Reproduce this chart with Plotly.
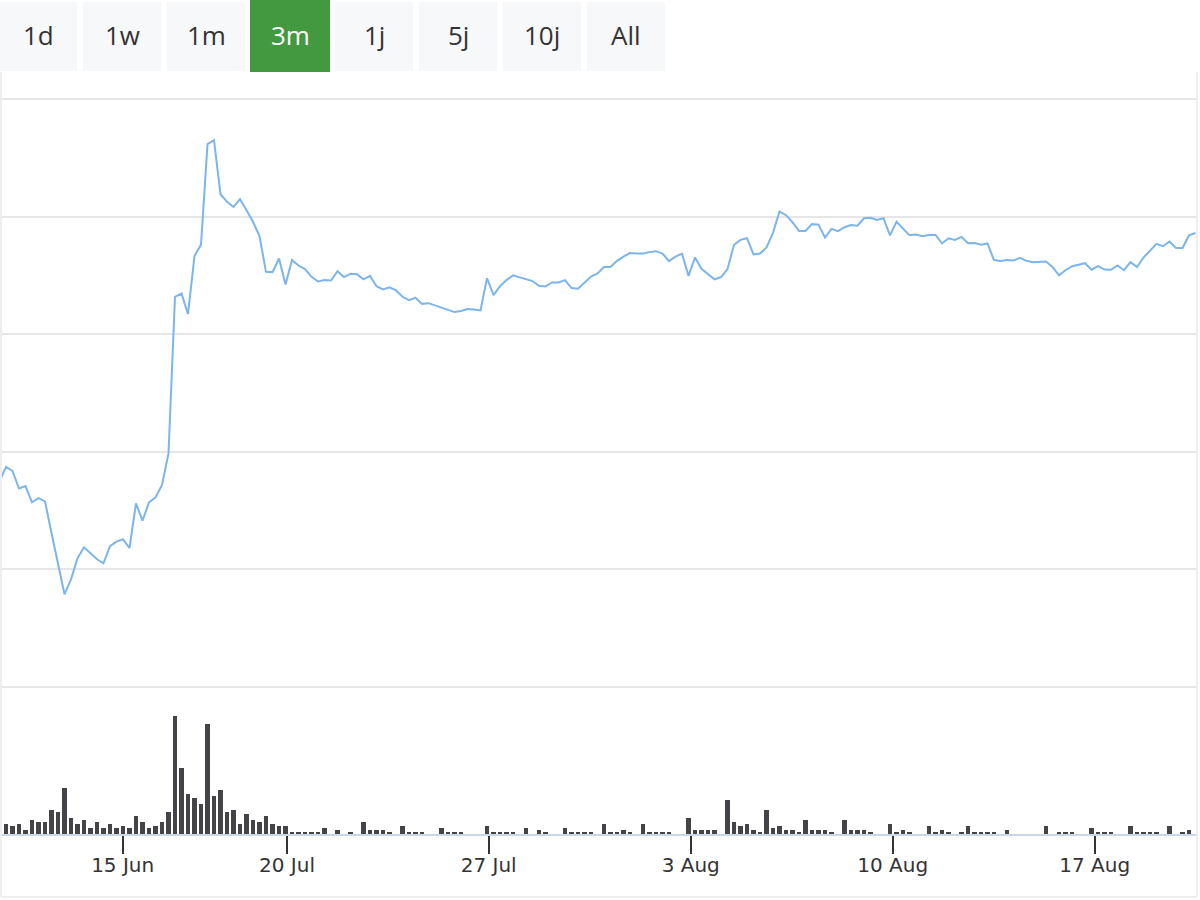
import plotly.graph_objects as go

# ordinal axis: one point per sample, date labels where the weeks start
price = [8.73, 9.36, 9.19, 8.44, 8.54, 7.85, 8.03, 7.89, 6.55, 5.27,
         3.94, 4.58, 5.47, 5.94, 5.68, 5.43, 5.26, 5.99, 6.18, 6.28,
         5.91, 7.81, 7.07, 7.85, 8.06, 8.59, 9.93, 16.59, 16.73, 15.85,
         18.32, 18.81, 23.08, 23.25, 20.95, 20.63, 20.41, 20.74, 20.27, 19.78,
         19.17, 17.65, 17.64, 18.22, 17.11, 18.15, 17.92, 17.77, 17.44, 17.24,
         17.30, 17.28, 17.68, 17.43, 17.57, 17.55, 17.33, 17.48, 17.04, 16.90,
         16.99, 16.86, 16.59, 16.45, 16.55, 16.29, 16.32, 16.22, 16.12, 16.01,
         15.94, 15.99, 16.07, 16.05, 16.01, 17.38, 16.66, 17.04, 17.30, 17.50,
         17.41, 17.34, 17.26, 17.06, 17.03, 17.20, 17.20, 17.30, 16.96, 16.93,
         17.18, 17.45, 17.58, 17.86, 17.86, 18.12, 18.30, 18.45, 18.43, 18.43,
         18.49, 18.53, 18.43, 18.11, 18.30, 18.43, 17.48, 18.26, 17.78, 17.54,
         17.33, 17.43, 17.77, 18.80, 19.01, 19.08, 18.39, 18.43, 18.69, 19.31,
         20.22, 20.06, 19.76, 19.39, 19.39, 19.68, 19.66, 19.11, 19.48, 19.38,
         19.55, 19.64, 19.61, 19.93, 19.95, 19.86, 19.93, 19.20, 19.78, 19.49,
         19.21, 19.24, 19.17, 19.22, 19.22, 18.86, 19.08, 19.01, 19.14, 18.87,
         18.88, 18.80, 18.86, 18.15, 18.11, 18.15, 18.13, 18.25, 18.12, 18.06,
         18.08, 18.09, 17.86, 17.50, 17.72, 17.89, 17.95, 18.02, 17.74, 17.89,
         17.75, 17.74, 17.92, 17.72, 18.06, 17.85, 18.26, 18.57, 18.84, 18.74,
         18.94, 18.67, 18.67, 19.20, 19.30]

volume = [0, 50, 40, 50, 20, 70, 60, 60, 120, 110,
          230, 80, 50, 70, 30, 60, 30, 50, 30, 40,
          30, 90, 60, 30, 40, 60, 110, 590, 330, 200,
          180, 150, 550, 190, 220, 110, 120, 50, 100, 70,
          60, 90, 50, 40, 40, 10, 10, 10, 10, 10,
          30, 0, 20, 0, 10, 0, 60, 20, 20, 20,
          10, 0, 40, 10, 10, 10, 0, 0, 30, 10,
          10, 10, 0, 0, 0, 40, 10, 10, 10, 10,
          0, 30, 0, 20, 10, 0, 0, 30, 10, 10,
          10, 10, 0, 50, 10, 10, 20, 10, 0, 50,
          10, 10, 10, 10, 0, 0, 80, 20, 20, 20,
          20, 0, 170, 60, 40, 50, 20, 10, 120, 30,
          40, 20, 20, 10, 70, 20, 20, 20, 10, 0,
          70, 20, 20, 20, 10, 0, 0, 50, 10, 20,
          10, 0, 0, 40, 10, 20, 10, 0, 10, 40,
          10, 10, 10, 10, 0, 20, 0, 0, 0, 0,
          0, 40, 0, 10, 10, 10, 0, 0, 30, 10,
          10, 10, 0, 0, 40, 10, 10, 10, 10, 0,
          40, 0, 10, 20, 0]

tick_pos = [18.95, 44.23, 75.26, 106.34, 137.42, 168.49]
tick_text = ["15 Jun", "20 Jul", "27 Jul", "3 Aug", "10 Aug", "17 Aug"]

buttons = ["1d", "1w", "1m", "3m", "1j", "5j", "10j", "All"]
active = "3m"

idx = list(range(len(price)))

fig = go.Figure()
fig.add_trace(go.Scatter(x=idx, y=price, mode="lines", yaxis="y",
                         line=dict(color="#7cb5ec", width=2), hoverinfo="skip"))
fig.add_trace(go.Bar(x=idx, y=volume, yaxis="y2", width=0.62,
                     marker=dict(color="#434348", line=dict(width=0)), hoverinfo="skip"))

W, H = 1200, 900
ml, mr, mt, mb = 0, 3, 0, 66
pw, ph = W - ml - mr, H - mt - mb


def px_x(v):
    return (v - ml) / pw


def px_y(v):
    return (H - mb - v) / ph


# button bar above the chart
shapes = []
annotations = []
bx = [(0, 77), (83, 161), (167, 245), (250, 330), (335, 413), (419, 497), (503, 581), (587, 665)]
for name, (x0, x1) in zip(buttons, bx):
    on = name == active
    shapes.append(dict(type="rect", xref="paper", yref="paper",
                       x0=px_x(x0), x1=px_x(x1),
                       y0=px_y(72 if on else 71), y1=px_y(0 if on else 2),
                       fillcolor="#43993f" if on else "#f7f8fa", line=dict(width=0), layer="below"))
    annotations.append(dict(xref="paper", yref="paper", x=px_x((x0 + x1) / 2), y=px_y(35),
                            text=name, showarrow=False, xanchor="center", yanchor="middle",
                            font=dict(family="Open Sans", size=26,
                                      color="#ffffff" if on else "#333333")))

# faint frame of the chart container
for x0, y0, x1, y1 in [(1, 72, 1, 897), (1197, 72, 1197, 897), (1, 897, 1197, 897)]:
    shapes.append(dict(type="line", xref="paper", yref="paper",
                       x0=px_x(x0), x1=px_x(x1), y0=px_y(y0), y1=px_y(y1),
                       line=dict(color="#eeeeee", width=2)))

fig.update_layout(
    width=W, height=H,
    margin=dict(l=ml, r=mr, t=mt, b=mb, pad=0),
    paper_bgcolor="white", plot_bgcolor="white",
    showlegend=False, bargap=0,
    shapes=shapes, annotations=annotations,
    xaxis=dict(anchor="y2", range=[0.077, 184.23], tickmode="array",
               tickvals=tick_pos, ticktext=tick_text, showgrid=False, zeroline=False,
               showline=True, linecolor="#ccd6eb", linewidth=2,
               ticks="outside", ticklen=18, tickwidth=2, tickcolor="#333333",
               ticklabelstandoff=-6,
               tickfont=dict(family="DejaVu Sans", size=20, color="#333333")),
    yaxis=dict(domain=[px_y(687), px_y(97)], range=[0, 25.085], dtick=5, tick0=0,
               showgrid=True, gridcolor="#e6e6e6", gridwidth=2,
               zeroline=True, zerolinecolor="#e6e6e6", zerolinewidth=2,
               showticklabels=False, ticks=""),
    yaxis2=dict(domain=[0, px_y(687)], range=[0, 735], showgrid=False,
                zeroline=False, showticklabels=False, ticks=""),
)

fig.write_html("out.html", config={"displayModeBar": False},
               post_script="document.body.style.margin='0';")
